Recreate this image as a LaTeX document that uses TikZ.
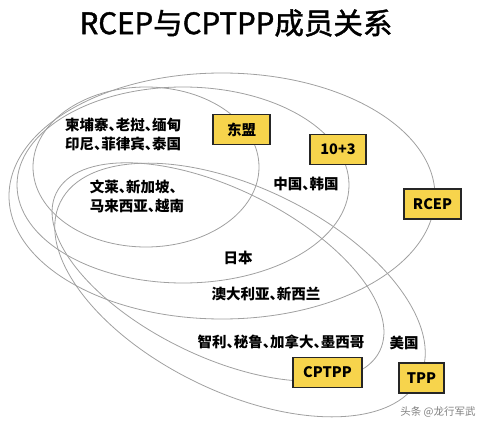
\documentclass[tikz,border=0pt]{standalone}
\usepackage{fontspec}
\setmainfont{Noto Sans CJK SC}
\newfontfamily\landfont{Noto Sans CJK SC}[RawFeature=+halt]
\newfontfamily\titelfont{Noto Sans CJK SC}[FakeBold=1.5]
\usepackage{tikz}

\definecolor{kastengelb}{RGB}{247,212,76}
\definecolor{kastenrand}{RGB}{38,38,38}
\definecolor{liniengrau}{RGB}{160,160,160}

\tikzset{
    kasten/.style={draw=kastenrand, line width=1.6pt, fill=kastengelb, inner sep=0pt,
        minimum height=30pt, font=\bfseries\fontsize{14.5}{16}\selectfont},
    land/.style={font=\landfont\bfseries\fontsize{14.5}{19}\selectfont, align=left, inner sep=0pt},
    bogen/.style={draw=liniengrau, line width=0.8pt}
}

\begin{document}
\begin{tikzpicture}[x=1pt, y=-1pt]
    \useasboundingbox (0,0) rectangle (494,430);
    % Titel:
    \node[font=\titelfont\fontsize{29.5}{31}\selectfont, inner sep=0pt] (titel) at (236,23) {RCEP与CPTPP成员关系};
    % Ellipsen:
    \draw[bogen] (146,167) ellipse [x radius=113, y radius=80]; % Asean
    \draw[bogen] (183,185) ellipse [x radius=166, y radius=98]; % 10+3
    \draw[bogen] (222,196) ellipse [x radius=213, y radius=123]; % Rcep
    \draw[bogen, rotate around={-26:(218,272)}] (218,272) ellipse [x radius=180, y radius=84]; % Cptpp
    \draw[bogen, rotate around={-26:(240,290)}] (240,290) ellipse [x radius=200, y radius=102]; % Tpp
    % Kaesten:
    \node[kasten, minimum width=57pt] (asean) at (241.5,129.5) {东盟};
    \node[kasten, minimum width=56pt] (zehnplus) at (338,149.5) {10+3};
    \node[kasten, minimum width=57pt] (rcep) at (432.5,204) {RCEP};
    \node[kasten, minimum width=69pt] (cptpp) at (327.5,372.5) {CPTPP};
    \node[kasten, minimum width=45pt] (tpp) at (421.5,378) {TPP};
    % Laender:
    \node[land] (asean1) at (123,134) {柬埔寨、老挝、缅甸\\印尼、菲律宾、泰国};
    \node[land] (asean2) at (137,196) {文莱、新加坡、\\马来西亚、越南};
    \node[land] (chinakorea) at (306,184) {中国、韩国};
    \node[land] (japan) at (238,258) {日本};
    \node[land] (ausnz) at (266,294) {澳大利亚、新西兰};
    \node[land] (amerika) at (281,342) {智利、秘鲁、加拿大、墨西哥};
    \node[land] (usa) at (404,343) {美国};
    \node[font=\fontsize{10.5}{12}\selectfont, text=gray, inner sep=0pt] (marke) at (438,412) {头条 @龙行军武};
\end{tikzpicture}
\end{document}
